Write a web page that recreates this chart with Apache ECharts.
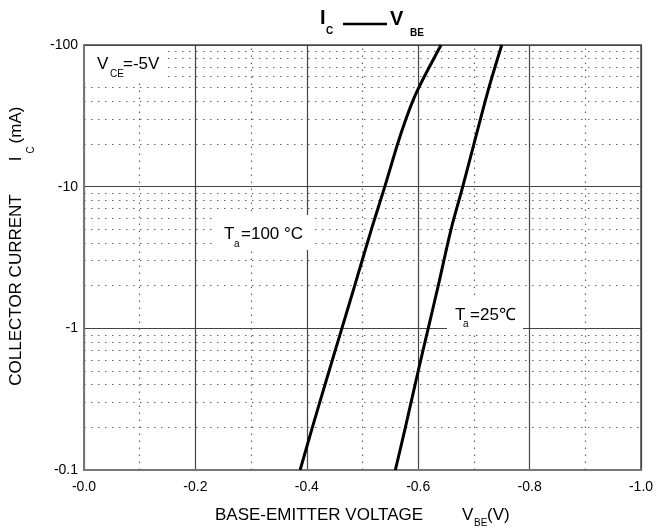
<!DOCTYPE html>
<html>
<head>
<meta charset="utf-8">
<script src="https://cdn.jsdelivr.net/npm/echarts@6/dist/echarts.min.js"></script>
<style>
  html, body { margin: 0; padding: 0; background: #fff; }
  #chart { width: 658px; height: 529px; }
</style>
</head>
<body>
<div id="chart"></div>
<script>
// magnitudes: Ic in mA (log), Vbe in V
const ic100 = [0.1, 0.2, 0.5, 1, 2, 5, 10, 20, 30, 40, 50, 70, 100];
const vbe100 = [0.388, 0.410, 0.440, 0.463, 0.486, 0.516, 0.540, 0.563, 0.578, 0.590, 0.601, 0.620, 0.641];
const ic25 = [0.1, 0.2, 0.5, 1, 2, 5, 10, 20, 50, 100];
const vbe25 = [0.559, 0.577, 0.600, 0.618, 0.636, 0.659, 0.680, 0.700, 0.727, 0.750];

// dotted minor grid positions
const xMinor = [0.1, 0.3, 0.5, 0.7, 0.9];
const yMinor = [0.2, 0.3, 0.4, 0.5, 0.6, 0.7, 0.8, 0.9,
                2, 3, 4, 5, 6, 7, 8, 9,
                20, 30, 40, 50, 60, 70, 80, 90];

const FONT = '"Liberation Sans", Arial, sans-serif';

const chart = echarts.init(document.getElementById('chart'));

function txt(x, y, text, size, extra) {
    return Object.assign({
        type: 'text', x: x, y: y, z: 100,
        style: {
            text: text, fontSize: size, fontFamily: FONT, fill: '#000',
            textAlign: 'left', textVerticalAlign: 'middle'
        }
    }, extra || {});
}
function box(x, y, w, h) {
    return { type: 'rect', z: 90, shape: { x: x, y: y, width: w, height: h }, style: { fill: '#fff' } };
}
function boldTxt(x, y, text, size) {
    const t = txt(x, y, text, size);
    t.style.fontWeight = 'bold';
    return t;
}
function vTxt(x, y, text, size) {
    const t = txt(x, y, text, size, { rotation: Math.PI / 2 });
    t.style.textAlign = 'center';
    return t;
}

const minorStyle = { color: '#666', width: 1.2, type: [1.5, 5.5] };

const option = {
    animation: false,
    backgroundColor: '#fff',
    grid: {
        left: 84, right: 17, top: 45, bottom: 59,
        show: true, borderColor: '#777', borderWidth: 2, backgroundColor: 'transparent'
    },
    xAxis: {
        type: 'value',
        min: 0, max: 1, interval: 0.2,
        axisLine: { show: true, lineStyle: { color: '#777', width: 2 } },
        axisTick: { show: false },
        axisLabel: {
            color: '#000', fontSize: 14, fontFamily: FONT, margin: 10,
            formatter: v => '-' + v.toFixed(1)
        },
        splitLine: { show: true, lineStyle: { color: '#444', width: 1.2 } }
    },
    yAxis: {
        type: 'log', logBase: 10,
        min: 0.1, max: 100,
        axisLine: { show: true, lineStyle: { color: '#777', width: 2 } },
        axisTick: { show: false },
        axisLabel: {
            color: '#000', fontSize: 14, fontFamily: FONT, margin: 6,
            formatter: v => '-' + (+v.toPrecision(3))
        },
        splitLine: { show: true, lineStyle: { color: '#444', width: 1.2 } }
    },
    series: [
        {
            name: 'minor',
            type: 'line',
            data: [],
            z: 1,
            silent: true,
            markLine: {
                silent: true,
                symbol: 'none',
                label: { show: false },
                lineStyle: minorStyle,
                data: xMinor.map(v => ({ xAxis: v })).concat(yMinor.map(v => ({ yAxis: v })))
            }
        },
        {
            name: 'Ta=100',
            type: 'line',
            z: 5,
            symbol: 'none',
            smooth: 0.3,
            lineStyle: { color: '#000', width: 3 },
            data: ic100.map((c, i) => [vbe100[i], c])
        },
        {
            name: 'Ta=25',
            type: 'line',
            z: 5,
            symbol: 'none',
            smooth: 0.3,
            lineStyle: { color: '#000', width: 3 },
            data: ic25.map((c, i) => [vbe25[i], c])
        }
    ],
    graphic: [
        // title
        boldTxt(320, 18, 'I', 20),
        boldTxt(326, 31.5, 'C', 10),
        { type: 'line', z: 100, shape: { x1: 343, y1: 24, x2: 387, y2: 24 }, style: { stroke: '#000', lineWidth: 2.5 } },
        boldTxt(390, 19, 'V', 20),
        boldTxt(410, 33, 'BE', 10),

        // annotations with white backing
        box(85, 47, 83, 35),
        txt(97, 64, 'V', 17),
        txt(110, 74, 'CE', 10),
        txt(123, 64, '=-5V', 17),

        box(217, 215, 96, 35),
        txt(224, 234, 'T', 17),
        txt(234, 244, 'a', 10),
        txt(241, 234, '=100 °C', 17),

        box(447, 298, 76, 34),
        txt(455, 315, 'T', 17),
        txt(463, 324.5, 'a', 10),
        txt(470, 315, '=25℃', 17),

        // x axis name
        txt(215, 515, 'BASE-EMITTER VOLTAGE', 17),
        txt(462, 515, 'V', 17),
        txt(474, 523, 'BE', 10),
        txt(487, 515, '(V)', 17),

        // y axis name (reads bottom to top)
        vTxt(16.5, 290, 'COLLECTOR CURRENT', 17),
        vTxt(16.5, 159, 'I', 17),
        vTxt(31, 150, 'C', 10),
        vTxt(16.5, 125, '(mA)', 17)
    ]
};

chart.setOption(option);
</script>
</body>
</html>
